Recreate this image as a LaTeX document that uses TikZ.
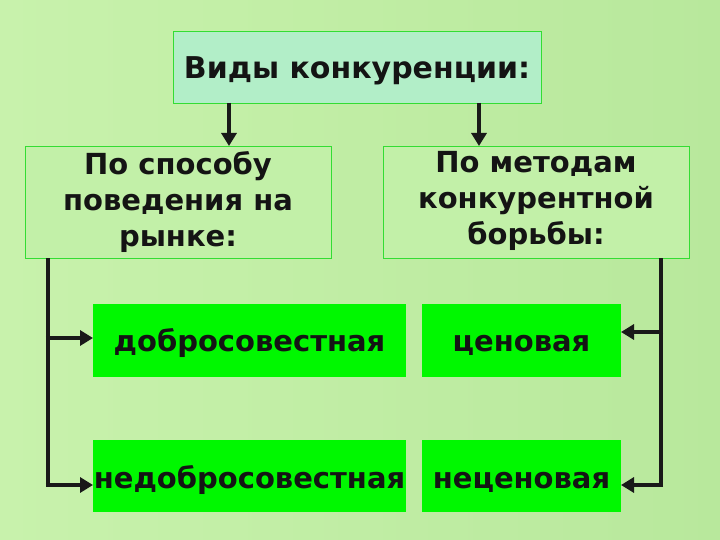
\documentclass[tikz,border=0pt]{standalone}
\usepackage{fontspec}
\setmainfont{DejaVu Sans}
\usetikzlibrary{arrows.meta}
\definecolor{bgL}{HTML}{C8F2AC}
\definecolor{bgR}{HTML}{B8E89C}
\definecolor{titlefill}{HTML}{B2EEC8}
\definecolor{boxfill}{HTML}{C2F0A8}
\definecolor{brd}{HTML}{33DD33}
\definecolor{brightg}{HTML}{00F800}
\tikzset{
  x=1pt, y=-1pt,
  headbox/.style={draw=brd, line width=0.8pt, fill=titlefill, inner sep=0pt},
  catbox/.style={draw=brd, line width=0.8pt, fill=boxfill, inner sep=0pt},
  kindbox/.style={fill=brightg, inner sep=0pt},
  lbl/.style={font=\bfseries\fontsize{29}{36}\selectfont, align=center, text=black!92},
  conn/.style={line width=4.5pt, draw=black!90},
  arr/.style={conn, -{Triangle[length=13pt,width=15pt]}},
}
\begin{document}
\begin{tikzpicture}
\shade[left color=bgL, right color=bgR] (0,0) rectangle (720,540);
\useasboundingbox (0,0) rectangle (720,540);
% boxes
\path[headbox] (173,31) rectangle (541,103);
\node[lbl, font=\bfseries\fontsize{30}{36}\selectfont, anchor=base] (title) at (357,79) {Виды конкуренции:};
\path[catbox] (25,146) rectangle (331,258);
\node[lbl] (c1) at (178,202) {По способу\\поведения на\\рынке:};
\path[catbox] (383,146) rectangle (689,258);
\node[lbl] (c2) at (536,201) {По методам\\конкурентной\\борьбы:};
\path[kindbox] (93,304) rectangle (406,377);
\node[lbl, anchor=base] (k1) at (249.5,351) {добросовестная};
\path[kindbox] (422,304) rectangle (621,377);
\node[lbl, anchor=base] (k2) at (521.5,351) {ценовая};
\path[kindbox] (93,440) rectangle (406,512);
\node[lbl, anchor=base] (k3) at (249.5,488) {недобросовестная};
\path[kindbox] (422,440) rectangle (621,512);
\node[lbl, anchor=base] (k4) at (521.5,488) {неценовая};
% coordinates
\coordinate (t1) at (229,103);
\coordinate (t1e) at (229,146);
\coordinate (t2) at (479,103);
\coordinate (t2e) at (479,146);
\coordinate (l0) at (48,258);
\coordinate (l1) at (48,338);
\coordinate (l2) at (48,485);
\coordinate (l1e) at (93,338);
\coordinate (l2e) at (93,485);
\coordinate (r0) at (661,258);
\coordinate (r1) at (661,332);
\coordinate (r2) at (661,485);
\coordinate (r1e) at (621,332);
\coordinate (r2e) at (621,485);
% connectors
\draw[arr] (t1) -- (t1e);
\draw[arr] (t2) -- (t2e);
\draw[conn] (l0) -- (l2);
\draw[arr] ([xshift=-2.2pt]l1) -- (l1e);
\draw[arr] ([xshift=-2.2pt]l2) -- (l2e);
\draw[conn] (r0) -- (r2);
\draw[arr] ([xshift=2.2pt]r1) -- (r1e);
\draw[arr] ([xshift=2.2pt]r2) -- (r2e);
\end{tikzpicture}
\end{document}
